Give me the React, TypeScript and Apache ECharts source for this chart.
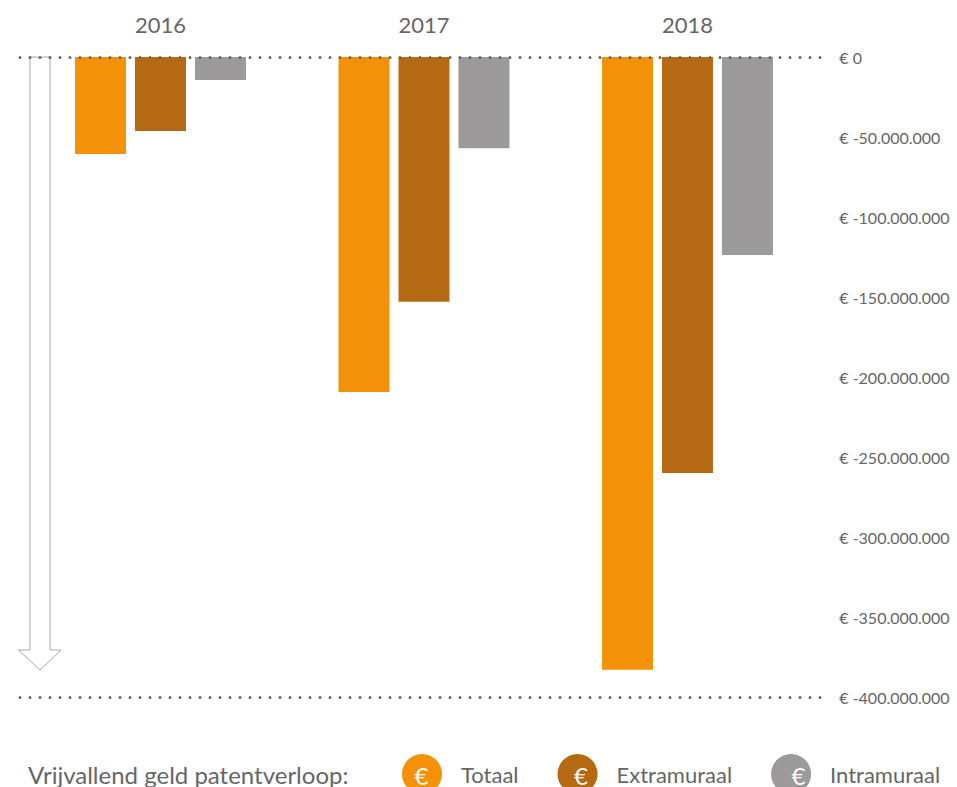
import React, { useEffect, useRef } from "react";
import * as echarts from "echarts";

const years = ["2016", "2017", "2018"];
const totaal = [-60600000, -209400000, -383000000];
const extramuraal = [-46200000, -153000000, -260000000];
const intramuraal = [-14400000, -57000000, -123800000];
const seriesNames = ["Totaal", "Extramuraal", "Intramuraal"];
const seriesColors = ["#f39208", "#b56913", "#9c9a9a"];
const legendTextWidths = [61, 119, 114];
const legendTitle = "Vrijvallend geld patentverloop:";
const FONT = "Lato";
const TEXT = "#666666";

const formatEuro = (v: number) =>
  "€ " + String(v).replace(/\B(?=(\d{3})+(?!\d))/g, ".");

export default function App() {
  const ref = useRef<HTMLDivElement>(null);
  useEffect(() => {
    document.body.style.margin = "0";
    document.body.style.overflow = "hidden";
    const chart = echarts.init(ref.current!, undefined, { renderer: "svg" });
    const values = [totaal, extramuraal, intramuraal];
    chart.setOption({
      animation: false,
      textStyle: { fontFamily: FONT },
      grid: [
        { left: 28.75, top: 57, width: 790.5, height: 640 },
        { left: 20, top: 57, width: 810, height: 640 },
      ],
      xAxis: [
        {
          type: "category",
          gridIndex: 0,
          position: "top",
          data: years,
          axisLine: { show: false },
          axisTick: { show: false },
          axisLabel: { fontFamily: FONT, fontSize: 22, color: TEXT, margin: 22 },
        },
        { type: "value", gridIndex: 1, show: false, min: 0, max: 1 },
      ],
      yAxis: [
        {
          type: "value",
          gridIndex: 0,
          position: "right",
          min: -400000000,
          max: 0,
          interval: 50000000,
          axisLine: { show: false },
          axisTick: { show: false },
          splitLine: { show: false },
          axisLabel: {
            fontFamily: FONT,
            fontSize: 16,
            color: TEXT,
            margin: 20,
            formatter: formatEuro,
          },
        },
        {
          type: "value",
          gridIndex: 1,
          min: -400000000,
          max: 0,
          interval: 400000000,
          z: 10,
          axisLine: { show: false },
          axisTick: { show: false },
          axisLabel: { show: false },
          splitLine: {
            show: true,
            lineStyle: { color: "#666666", width: 3, type: [0, 10], cap: "round" },
          },
        },
      ],
      legend: {
        left: 402,
        top: 754,
        width: 700,
        padding: 0,
        itemWidth: 40,
        itemHeight: 40,
        itemGap: 39,
        icon: "circle",
        selectedMode: false,
        data: seriesNames.map((name, i) => ({
          name,
          textStyle: {
            fontFamily: FONT,
            fontSize: 22,
            color: TEXT,
            padding: [0, 0, 0, 14],
            width: legendTextWidths[i] + 14,
          },
        })),
      },
      series: seriesNames.map((name, i) => ({
        name,
        type: "bar",
        xAxisIndex: 0,
        yAxisIndex: 0,
        barWidth: 51,
        barGap: "17.6%",
        data: values[i],
        itemStyle: { color: seriesColors[i] },
      })),
      graphic: [
        {
          type: "polygon",
          silent: true,
          shape: {
            points: [
              [30, 57],
              [50, 57],
              [50, 650],
              [61, 650],
              [40, 670],
              [18.5, 650],
              [30, 650],
            ],
          },
          style: { fill: "#ffffff", stroke: "#aaaaaa", lineWidth: 1 },
          z: 1,
        },
        {
          type: "text",
          x: 28,
          y: 774,
          style: {
            text: legendTitle,
            font: `24px ${FONT}`,
            fill: TEXT,
            textVerticalAlign: "middle",
          },
        },
        ...[421.5, 581, 798.5].map((x) => ({
          type: "text",
          x,
          y: 775,
          z: 20,
          style: {
            text: "€",
            font: `24px ${FONT}`,
            fill: "#ffffff",
            textAlign: "center",
            textVerticalAlign: "middle",
          },
        })),
      ],
    });
    return () => chart.dispose();
  }, []);
  return <div ref={ref} style={{ width: 957, height: 787 }} />;
}
